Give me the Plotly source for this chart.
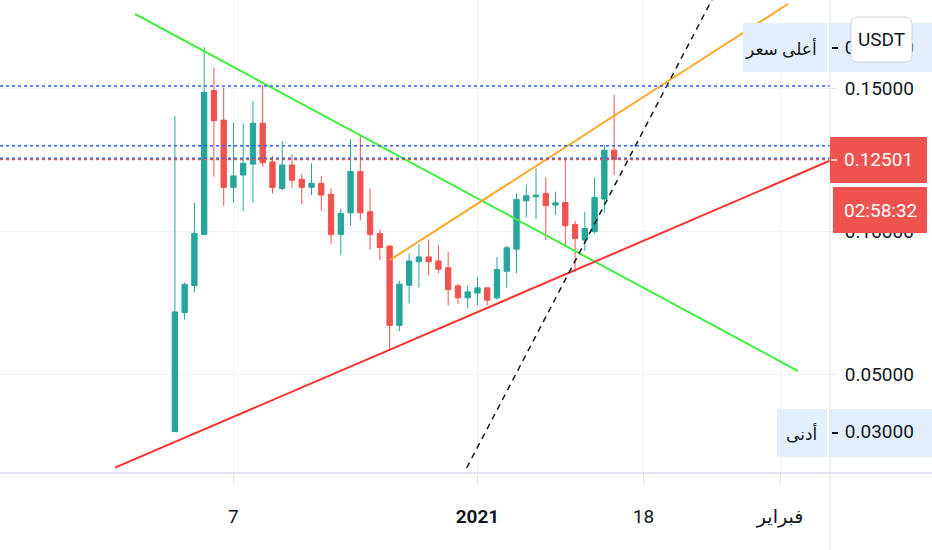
import plotly.graph_objects as go
import pandas as pd

# ---------------- data ----------------
dates = pd.date_range("2020-12-01", "2021-01-15", freq="D")
opens = [0.0300, 0.0716, 0.0810, 0.0988, 0.1491, 0.1388, 0.1153, 0.1196, 0.1234, 0.1377,
         0.1242, 0.1149, 0.1231, 0.1181, 0.1153, 0.1167, 0.1129, 0.0988, 0.1064, 0.1208,
         0.1068, 0.0992, 0.0948, 0.0671, 0.0811, 0.0893, 0.0910, 0.0896, 0.0872, 0.0809,
         0.0767, 0.0784, 0.0802, 0.0767, 0.0860, 0.0937, 0.1106, 0.1120, 0.1132, 0.1091,
         0.1100, 0.1023, 0.0969, 0.0998, 0.1112, 0.1283]
highs = [0.1402, 0.0821, 0.1099, 0.1643, 0.1572, 0.1502, 0.1379, 0.1377, 0.1455, 0.1510,
         0.1262, 0.1315, 0.1268, 0.1199, 0.1237, 0.1193, 0.1149, 0.1079, 0.1322, 0.1336,
         0.1149, 0.1006, 0.0950, 0.0826, 0.0922, 0.0955, 0.0971, 0.0951, 0.0928, 0.0815,
         0.0809, 0.0840, 0.0802, 0.0910, 0.0948, 0.1132, 0.1163, 0.1219, 0.1188, 0.1138,
         0.1251, 0.1036, 0.1068, 0.1188, 0.1301, 0.1476]
lows = [0.0300, 0.0691, 0.0786, 0.0988, 0.1190, 0.1089, 0.1100, 0.1070, 0.1100, 0.1225,
        0.1132, 0.1143, 0.1152, 0.1094, 0.1126, 0.1070, 0.0955, 0.0916, 0.1019, 0.1038,
        0.0936, 0.0899, 0.0584, 0.0651, 0.0747, 0.0803, 0.0846, 0.0854, 0.0741, 0.0745,
        0.0730, 0.0741, 0.0741, 0.0759, 0.0803, 0.0854, 0.1048, 0.1042, 0.0969, 0.1056,
        0.0951, 0.0858, 0.0931, 0.0992, 0.1064, 0.1196]
closes = [0.0718, 0.0814, 0.0992, 0.1485, 0.1386, 0.1153, 0.1193, 0.1237, 0.1377, 0.1239,
          0.1153, 0.1231, 0.1178, 0.1153, 0.1167, 0.1126, 0.0988, 0.1062, 0.1208, 0.1064,
          0.0988, 0.0943, 0.0671, 0.0815, 0.0896, 0.0910, 0.0893, 0.0867, 0.0796, 0.0767,
          0.0788, 0.0802, 0.0759, 0.0866, 0.0942, 0.1111, 0.1124, 0.1126, 0.1089, 0.1099,
          0.1019, 0.0974, 0.1009, 0.1118, 0.1283, 0.12501]

# drawn trend lines (time, price)
green_x = ["2020-11-26 21:50", "2021-02-02 20:10"]
green_y = [0.17585, 0.05115]
orange_x = ["2020-12-23 00:45", "2021-02-01 19:30"]
orange_y = [0.08992, 0.17934]
red_x = ["2020-11-24 20:40", "2021-02-07 03:20"]
red_y = [0.01738, 0.12611]
dash_x = ["2020-12-30 21:20", "2021-01-25 10:30"]
dash_y = [0.01727, 0.18353]

hline_levels = [0.1507, 0.1298, 0.1255]
last_price = closes[-1]
countdown = "02:58:32"

y_ticks = [0.05, 0.10, 0.15]
x_tickvals = ["2020-12-07", "2021-01-01", "2021-01-18", "2021-02-01"]
x_ticktext = ["7", "<b>2021</b>", "18", "فبراير"]
high_label = "أعلى سعر"
low_label = "أدنى"
currency = "USDT"

# ---------------- style ----------------
UP = "#26a69a"
DOWN = "#ef5350"
TXT = "#131722"
GRID = "#f0f3fa"
BORDER = "#e0e3eb"
BADGE = "#e3effd"
FONT = "Roboto, DejaVu Sans, sans-serif"
FS = 19
FS_AR = 17

W, H = 830, 473  # plot area in px


def px(x):
    return x / W


def py(y):
    return (H - y) / H


fig = go.Figure()
fig.add_trace(go.Candlestick(
    x=dates, open=opens, high=highs, low=lows, close=closes,
    increasing=dict(line=dict(color=UP, width=1), fillcolor=UP),
    decreasing=dict(line=dict(color=DOWN, width=1), fillcolor=DOWN),
    whiskerwidth=0, showlegend=False, hoverinfo="skip",
))
fig.add_trace(go.Scatter(x=green_x, y=green_y, mode="lines",
                         line=dict(color="#3ff03f", width=2), showlegend=False, hoverinfo="skip"))
fig.add_trace(go.Scatter(x=orange_x, y=orange_y, mode="lines",
                         line=dict(color="#ffa726", width=2), showlegend=False, hoverinfo="skip"))
fig.add_trace(go.Scatter(x=red_x, y=red_y, mode="lines",
                         line=dict(color="#ff3030", width=2), showlegend=False, hoverinfo="skip"))
fig.add_trace(go.Scatter(x=dash_x, y=dash_y, mode="lines",
                         line=dict(color=TXT, width=1.5, dash="6px,5px"), showlegend=False, hoverinfo="skip"))
# invisible trace for the secondary price axis (high / low labels)
fig.add_trace(go.Scatter(x=[dates[0]], y=[min(lows)], yaxis="y2", mode="markers",
                         marker=dict(opacity=0), showlegend=False, hoverinfo="skip"))

shapes = []
for lv in hline_levels:
    shapes.append(dict(type="line", xref="paper", yref="y", x0=0, x1=1, y0=lv, y1=lv,
                       line=dict(color="#2962ff", width=1.5, dash="dot"), layer="above"))
shapes.append(dict(type="line", xref="paper", yref="y", x0=0, x1=1, y0=last_price, y1=last_price,
                   line=dict(color=DOWN, width=1.5, dash="dot"), layer="above"))
# frame lines
shapes.append(dict(type="line", xref="paper", yref="paper", x0=1, x1=1, y0=py(0), y1=py(550),
                   line=dict(color=BORDER, width=1)))
shapes.append(dict(type="line", xref="paper", yref="paper", x0=0, x1=px(932), y0=py(473), y1=py(473),
                   line=dict(color=BORDER, width=2)))
# high badge
shapes.append(dict(type="rect", xref="paper", yref="paper", x0=px(743), x1=px(827), y0=py(72), y1=py(23),
                   fillcolor=BADGE, line=dict(width=0), layer="above"))
shapes.append(dict(type="rect", xref="paper", yref="paper", x0=px(829), x1=px(932), y0=py(72), y1=py(23),
                   fillcolor=BADGE, line=dict(width=0), layer="below"))
# low badge
shapes.append(dict(type="rect", xref="paper", yref="paper", x0=px(777), x1=px(827), y0=py(457), y1=py(409),
                   fillcolor=BADGE, line=dict(width=0), layer="above"))
shapes.append(dict(type="rect", xref="paper", yref="paper", x0=px(829), x1=px(932), y0=py(457), y1=py(409),
                   fillcolor=BADGE, line=dict(width=0), layer="below"))
# badge tick marks
for yy in (48, 433):
    shapes.append(dict(type="line", xref="paper", yref="paper", x0=px(832), x1=px(838), y0=py(yy), y1=py(yy),
                       line=dict(color=TXT, width=2), layer="above"))
# last price badge and countdown
shapes.append(dict(type="rect", xref="paper", yref="paper", x0=px(830), x1=px(927), y0=py(183), y1=py(137),
                   fillcolor=DOWN, line=dict(width=0), layer="above"))
shapes.append(dict(type="line", xref="paper", yref="paper", x0=px(831), x1=px(837), y0=py(160), y1=py(160),
                   line=dict(color="white", width=1.5), layer="above"))
shapes.append(dict(type="rect", xref="paper", yref="paper", x0=px(833), x1=px(927), y0=py(233), y1=py(187),
                   fillcolor=DOWN, line=dict(width=0), layer="above"))


def rounded(x0, y0, x1, y1, r):
    a, b, c, d = px(x0), px(x1), py(y0), py(y1)
    rx, ry = r / W, r / H
    return (f"M {a+rx},{c} L {b-rx},{c} Q {b},{c} {b},{c-ry} L {b},{d+ry} Q {b},{d} {b-rx},{d} "
            f"L {a+rx},{d} Q {a},{d} {a},{d+ry} L {a},{c-ry} Q {a},{c} {a+rx},{c} Z")


shapes.append(dict(type="path", xref="paper", yref="paper", path=rounded(851, 17, 912, 62, 7),
                   fillcolor="white", line=dict(color="#d1d4dc", width=1), layer="above"))

annotations = [
    dict(text=high_label, x=px(819), y=py(48), xanchor="right",
         font=dict(color=TXT, size=FS_AR, family=FONT)),
    dict(text=low_label, x=px(819), y=py(433), xanchor="right",
         font=dict(color=TXT, size=FS_AR, family=FONT)),
    dict(text=f"{last_price:.5f}", x=px(878), y=py(160), font=dict(color="white", size=FS, family=FONT)),
    dict(text=countdown, x=px(880), y=py(210), font=dict(color="white", size=FS, family=FONT)),
    dict(text=currency, x=px(881.5), y=py(40)),
]
for a in annotations:
    a.setdefault("xanchor", "center")
    a.update(xref="paper", yref="paper", yanchor="middle", showarrow=False)
    a.setdefault("font", dict(color=TXT, size=FS, family=FONT))

yr = [0.01553, 0.18074]
fig.update_layout(
    width=932, height=550, autosize=False,
    margin=dict(l=0, r=102, t=0, b=77),
    paper_bgcolor="white", plot_bgcolor="rgba(0,0,0,0)",
    hovermode=False, showlegend=False, boxgap=0.22,
    font=dict(family=FONT, size=FS, color=TXT),
    xaxis=dict(type="date", range=["2020-11-13 02:00", "2021-02-06 02:50"],
               rangeslider=dict(visible=False),
               tickmode="array", tickvals=x_tickvals, ticktext=x_ticktext,
               showgrid=True, gridcolor=GRID, gridwidth=1,
               ticks="outside", ticklen=10, tickcolor=BORDER, tickwidth=1,
               showline=False, zeroline=False, ticklabelstandoff=16,
               tickfont=dict(size=FS, color=TXT, family=FONT)),
    yaxis=dict(side="right", range=yr, tickmode="array", tickvals=y_ticks,
               ticktext=[f"{v:.5f}" for v in y_ticks],
               showgrid=True, gridcolor=GRID, gridwidth=1, zeroline=False, showline=False,
               ticks="outside", ticklen=5, tickcolor=BORDER, tickwidth=1, ticklabelstandoff=5,
               tickfont=dict(size=FS, color=TXT, family=FONT)),
    yaxis2=dict(overlaying="y", side="right", range=yr, tickmode="array",
                tickvals=[max(highs), min(lows)],
                ticktext=[f"{max(highs):.5f}", f"{min(lows):.5f}"],
                showgrid=False, zeroline=False, showline=False,
                ticks="outside", ticklen=5, tickcolor="rgba(0,0,0,0)", ticklabelstandoff=5,
                tickfont=dict(size=FS, color=TXT, family=FONT)),
    shapes=shapes, annotations=annotations,
)

fig.write_html("out.html", config={"displayModeBar": False, "staticPlot": True},
               post_script="document.body.style.margin='0';")
